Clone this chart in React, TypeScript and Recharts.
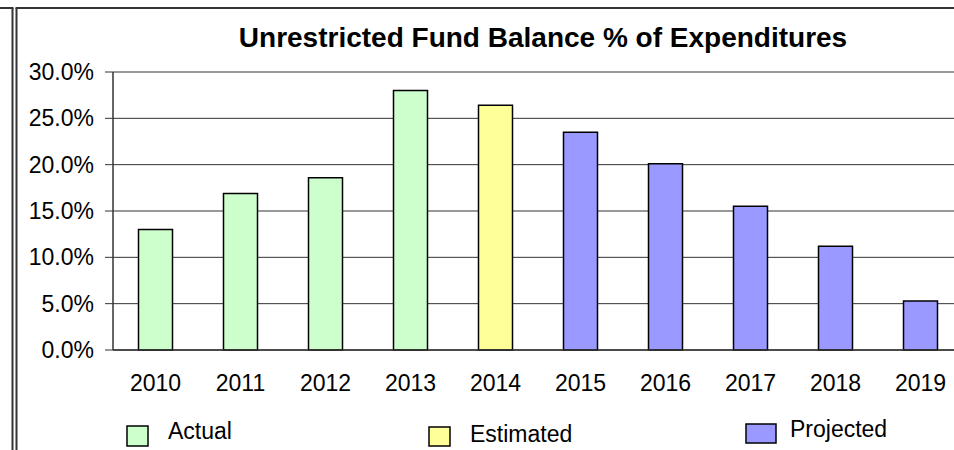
import { BarChart, Bar, XAxis, YAxis, CartesianGrid } from 'recharts'

const years = ['2010', '2011', '2012', '2013', '2014', '2015', '2016', '2017', '2018', '2019']
const actual = [13.0, 16.9, 18.6, 28.0, null, null, null, null, null, null]
const estimated = [null, null, null, null, 26.4, null, null, null, null, null]
const projected = [null, null, null, null, null, 23.5, 20.1, 15.5, 11.2, 5.3]
const yTicks = [0, 5, 10, 15, 20, 25, 30]

const title = 'Unrestricted Fund Balance % of Expenditures'
const seriesNames = ['Actual', 'Estimated', 'Projected']
const seriesColors = ['#ccffcc', '#ffff99', '#9999ff']

const font = '"Liberation Sans", Arial, sans-serif'

const data = years.map((year, i) => ({
  year,
  actual: actual[i],
  estimated: estimated[i],
  projected: projected[i],
}))

// legend placement as in the original sheet
const legendBoxes = [
  { x: 127, y: 426, w: 21, h: 20, tx: 168, ty: 439 },
  { x: 429, y: 427, w: 21, h: 19, tx: 470, ty: 442 },
  { x: 746, y: 424, w: 30, h: 19, tx: 790, ty: 437 },
]

export default function App() {
  return (
    <div style={{ position: 'absolute', left: 0, top: 0, width: 954, height: 450, overflow: 'hidden', background: '#fff' }}>
      <BarChart
        width={975}
        height={450}
        data={data}
        barCategoryGap="30%"
        margin={{ top: 72, right: 12, bottom: 0, left: 0 }}
      >
        <CartesianGrid vertical={false} stroke="#333" strokeWidth={1} />
        <XAxis
          dataKey="year"
          height={100}
          tickLine={false}
          tickSize={0}
          tickMargin={25}
          axisLine={{ stroke: '#333', strokeWidth: 1.5 }}
          tick={{ fontSize: 23, fill: '#000', fontFamily: font }}
          interval={0}
        />
        <YAxis
          width={113}
          domain={[0, 30]}
          ticks={yTicks}
          tickSize={8}
          tickMargin={11}
          tickFormatter={(v: number) => v.toFixed(1) + '%'}
          axisLine={{ stroke: '#333', strokeWidth: 1.5 }}
          tickLine={{ stroke: '#333' }}
          tick={{ fontSize: 23, fill: '#000', fontFamily: font }}
        />
        <Bar dataKey="actual" stackId="a" fill={seriesColors[0]} stroke="#000" strokeWidth={1.5} isAnimationActive={false} />
        <Bar dataKey="estimated" stackId="a" fill={seriesColors[1]} stroke="#000" strokeWidth={1.5} isAnimationActive={false} />
        <Bar dataKey="projected" stackId="a" fill={seriesColors[2]} stroke="#000" strokeWidth={1.5} isAnimationActive={false} />
      </BarChart>
      <svg width={954} height={450} style={{ position: 'absolute', left: 0, top: 0, pointerEvents: 'none' }}>
        <line x1={12.5} y1={8} x2={12.5} y2={450} stroke="#333" strokeWidth={2} />
        <line x1={0} y1={8} x2={13.5} y2={8} stroke="#333" strokeWidth={2} />
        <line x1={16.5} y1={8} x2={16.5} y2={450} stroke="#333" strokeWidth={2} />
        <line x1={15.5} y1={8} x2={954} y2={8} stroke="#333" strokeWidth={2} />
        <text x={543} y={47} textAnchor="middle" fontSize={28} fontWeight="bold" fontFamily={font} fill="#000">
          {title}
        </text>
        {seriesNames.map((name, i) => (
          <g key={name}>
            <rect x={legendBoxes[i].x} y={legendBoxes[i].y} width={legendBoxes[i].w} height={legendBoxes[i].h}
              fill={seriesColors[i]} stroke="#000" strokeWidth={1.5} />
            <text x={legendBoxes[i].tx} y={legendBoxes[i].ty} fontSize={23} fontFamily={font} fill="#000">
              {name}
            </text>
          </g>
        ))}
      </svg>
    </div>
  )
}
